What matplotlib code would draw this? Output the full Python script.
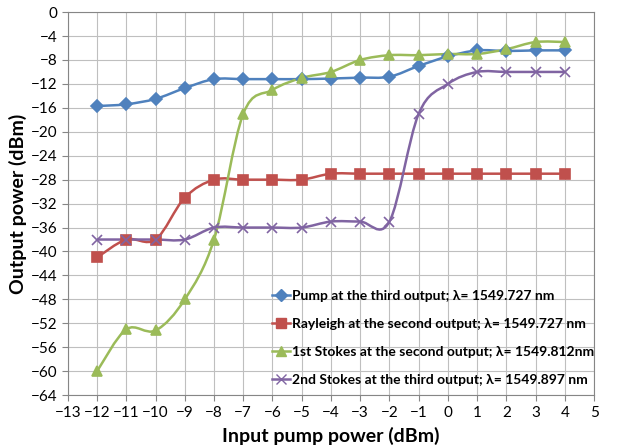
import numpy as np
import matplotlib
matplotlib.use('Agg')
import matplotlib.pyplot as plt
from matplotlib.path import Path
from matplotlib.patches import PathPatch

plt.rcParams['font.family'] = ['Lato', 'DejaVu Sans']

# input pump power (dBm)
x = [-12, -11, -10, -9, -8, -7, -6, -5, -4, -3, -2, -1, 0, 1, 2, 3, 4]

pump = [-15.7, -15.4, -14.5, -12.7, -11.2, -11.2, -11.2, -11.2, -11.1,
        -10.95, -10.8, -9.0, -7.4, -6.4, -6.5, -6.4, -6.4]
rayleigh = [-41, -38, -38, -31, -28, -28, -28, -28, -27,
            -27, -27, -27, -27, -27, -27, -27, -27]
stokes1 = [-60, -53, -53.2, -48, -38, -17, -13, -11, -10,
           -8, -7.2, -7.2, -7, -7, -6.2, -5, -5]
stokes2 = [-38, -38, -38, -38, -36, -36, -36, -36, -35,
           -35, -35, -17, -12, -10, -10, -10, -10]

labels = ['Pump at the third output; \u03bb= 1549.727 nm',
          'Rayleigh at the second output; \u03bb= 1549.727 nm',
          '1st Stokes at the second output; \u03bb= 1549.812nm',
          '2nd Stokes at the third output; \u03bb= 1549.897 nm']
colors = ['#4F81BD', '#C0504D', '#9BBB59', '#8064A2']
markers = ['D', 's', '^', 'x']
msizes = [6, 7, 7, 7]


# excel-style smoothed line as a bezier path
def smooth_path(xs, ys):
    p = np.column_stack([xs, ys]).astype(float)
    verts = [p[0]]
    codes = [Path.MOVETO]
    n = len(p)
    for i in range(n - 1):
        p0 = p[i - 1] if i > 0 else p[i]
        p3 = p[i + 2] if i + 2 < n else p[i + 1]
        c1 = p[i] + (p[i + 1] - p0) / 6.0
        c2 = p[i + 1] - (p3 - p[i]) / 6.0
        verts += [c1, c2, p[i + 1]]
        codes += [Path.CURVE4] * 3
    return Path(verts, codes)


fig = plt.figure(figsize=(6.34, 4.48), dpi=100)
ax = fig.add_axes([0.107, 0.118, 0.83, 0.855])

series = [pump, rayleigh, stokes1, stokes2]
for ys, c, m, ms, lab in zip(series, colors, markers, msizes, labels):
    ax.add_patch(PathPatch(smooth_path(x, ys), fill=False, edgecolor=c,
                           lw=1.8, zorder=3))
    ax.plot(x, ys, linestyle='none', marker=m, color=c, ms=ms,
            mew=1.2, zorder=4)
    ax.plot([], [], color=c, marker=m, ms=ms, lw=1.8, label=lab)

ax.set_xlim(-13, 5)
ax.set_ylim(-64, 0)
ax.set_xticks(range(-13, 6))
ax.set_yticks(range(-64, 1, 4))
ax.grid(True, color='#BFBFBF', lw=0.8)
ax.set_axisbelow(True)
for s in ax.spines.values():
    s.set_color('#868686')
ax.tick_params(colors='#868686', labelcolor='black', labelsize=11,
               length=4)

ax.set_xlabel('Input pump power (dBm)', fontsize=14, fontweight='bold',
              labelpad=5)
ax.set_ylabel('Output power (dBm)', fontsize=14, fontweight='bold',
              labelpad=3)

leg = ax.legend(loc='upper left', bbox_to_anchor=(0.377, 0.29),
                frameon=False, prop={'weight': 'bold', 'size': 10},
                handlelength=1.3, handletextpad=0.15, labelspacing=1.15,
                borderaxespad=0)

fig.savefig('out.png', dpi=100)
